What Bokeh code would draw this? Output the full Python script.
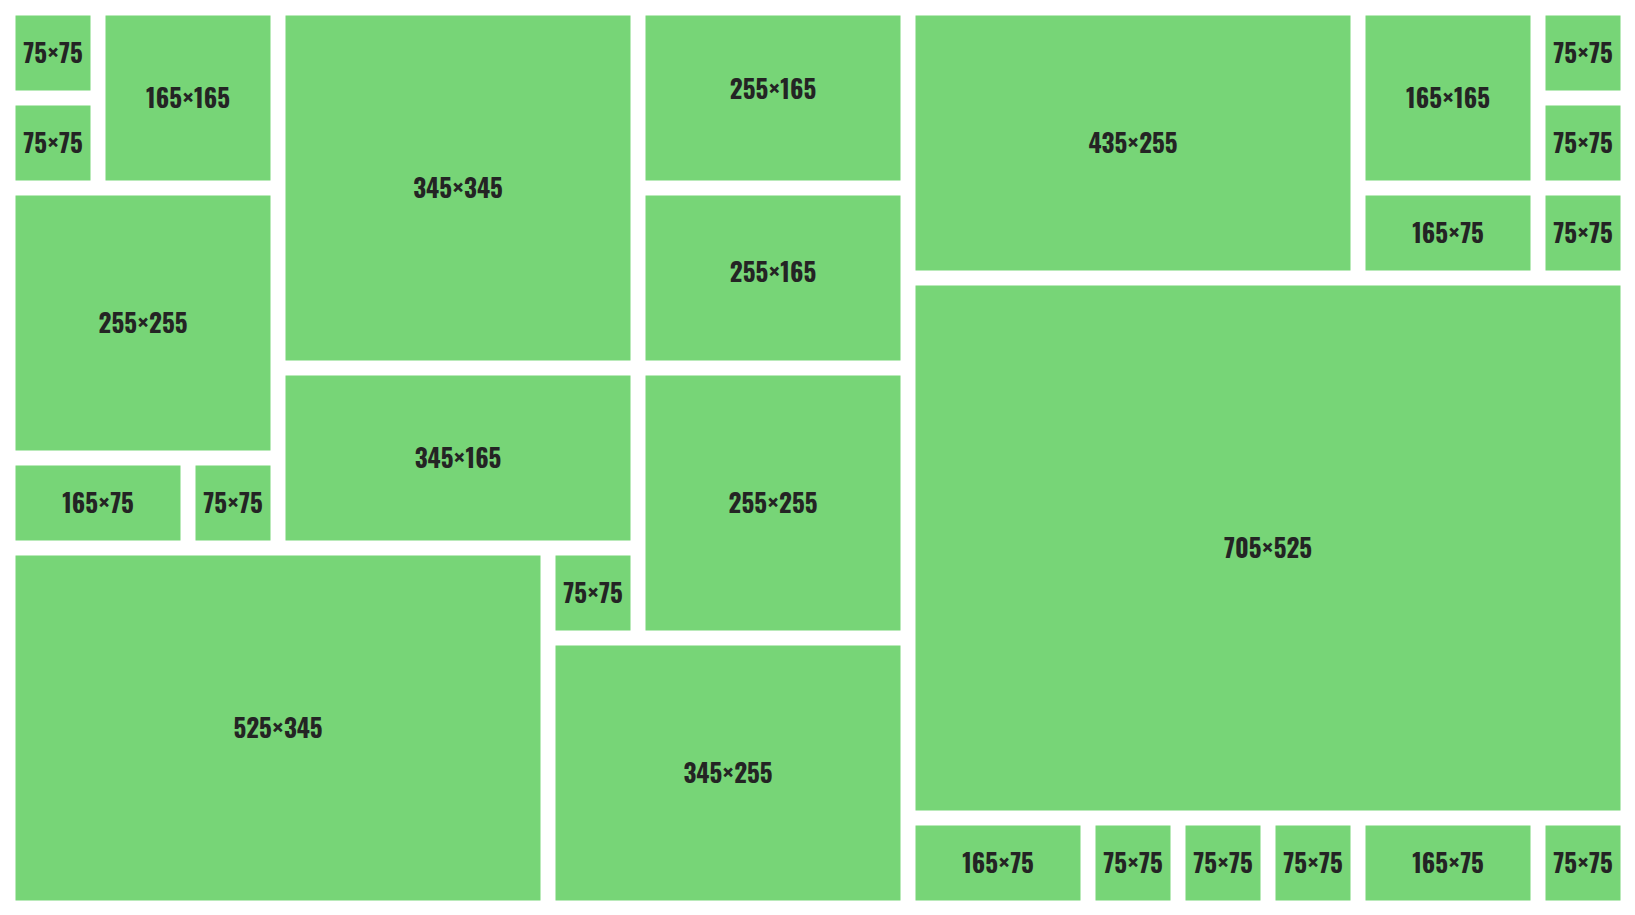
from bokeh.plotting import figure
from bokeh.models import ColumnDataSource
from bokeh.embed import file_html
from bokeh.resources import INLINE
from bokeh.core.properties import value

# Grid layout: column, row, width (cells), height (cells)
labels = ["75×75", "75×75", "165×165", "345×345", "255×165", "435×255", "165×165",
          "75×75", "75×75", "165×75", "75×75", "255×255", "255×165", "345×165",
          "255×255", "705×525", "165×75", "75×75", "525×345", "75×75", "345×255",
          "165×75", "75×75", "75×75", "75×75", "165×75", "75×75"]
cols = [0, 0, 1, 3, 7, 10, 15, 17, 17, 15, 17, 0, 7, 3, 7, 10, 0, 2, 0, 6, 6,
        10, 12, 13, 14, 15, 17]
rows = [0, 1, 0, 0, 0, 0, 0, 0, 1, 2, 2, 2, 2, 4, 4, 3, 5, 5, 6, 6, 7,
        9, 9, 9, 9, 9, 9]
wcells = [1, 1, 2, 4, 3, 5, 2, 1, 1, 2, 1, 3, 3, 4, 3, 8, 2, 1, 6, 1, 4,
          2, 1, 1, 1, 2, 1]
hcells = [1, 1, 2, 4, 2, 3, 2, 1, 1, 1, 1, 3, 2, 2, 3, 6, 1, 1, 4, 1, 3,
          1, 1, 1, 1, 1, 1]

CELL = 90
GAP = 15
W, H = 1635, 915

left = [GAP + c * CELL for c in cols]
top = [GAP + r * CELL for r in rows]
right = [l + w * CELL - GAP for l, w in zip(left, wcells)]
bottom = [t + h * CELL - GAP for t, h in zip(top, hcells)]
cx = [(l + r) / 2 for l, r in zip(left, right)]
cy = [(t + b) / 2 - 1.5 for t, b in zip(top, bottom)]
# the two 255×165 tiles in column 7 have their labels set slightly higher
shift = {4: -9.0, 12: -6.5}
for i, d in shift.items():
    cy[i] += d

src = ColumnDataSource(dict(left=left, right=right, top=top, bottom=bottom,
                            cx=cx, cy=cy, label=labels))

p = figure(width=W, height=H, x_range=(0, W), y_range=(H, 0),
           output_backend="svg", toolbar_location=None, min_border=0,
           background_fill_color="white", border_fill_color="white")
p.axis.visible = False
p.grid.visible = False
p.outline_line_color = None

p.quad(left="left", right="right", top="top", bottom="bottom", source=src,
       fill_color="#77D577", line_color=None)
p.text(x="cx", y="cy", text="label", source=src, text_align="center",
       text_baseline="middle", text_font_size="25px", text_font_style="bold",
       text_color="#242424", text_font=value("Oswald"))

open("out.html", "w").write(file_html(p, INLINE))
